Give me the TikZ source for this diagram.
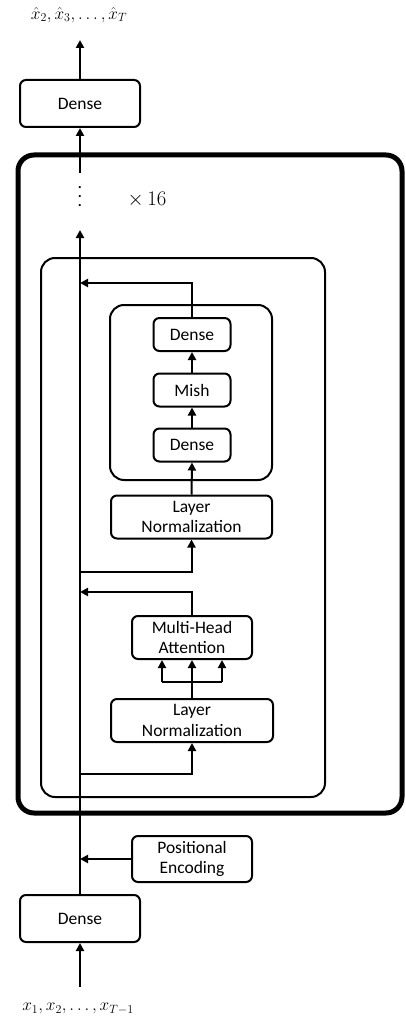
\documentclass[tikz,border=0pt]{standalone}
\usepackage[no-math]{fontspec}
\setmainfont{Carlito}
\usepackage{amsmath}
\usepackage{tikz}
\usetikzlibrary{positioning,arrows.meta,calc}
\tikzset{
  arr/.style={-{Triangle[length=8pt,width=8pt]},line width=2pt},
  lnk/.style={line width=2pt},
  blk/.style={draw,rounded corners=6pt,line width=2pt,align=center,inner sep=0pt,
    font=\fontsize{17.5}{20.5}\selectfont},
  grp/.style={line width=2pt,rounded corners=14pt},
  stackbox/.style={line width=5pt,rounded corners=16pt},
  mlbl/.style={font=\fontsize{18}{21}\selectfont},
}
\begin{document}
\begin{tikzpicture}[x=1pt,y=-1pt]
  \useasboundingbox (0,0) rectangle (405,1024);
  % outer repeated stack and the block inside it
  \draw[stackbox] (18,155) rectangle (402,813);
  \draw[grp] (41,258) rectangle (325,797);
  \draw[grp] (110,305) rectangle (272,480);
  % blocks
  \node[blk,minimum width=120pt,minimum height=47pt] (denseOut) at (80,103.5) {Dense};
  \node[blk,minimum width=77pt,minimum height=33pt] (dense2) at (192,334.5) {Dense};
  \node[blk,minimum width=77pt,minimum height=33pt] (mish) at (192,390) {Mish};
  \node[blk,minimum width=77pt,minimum height=33pt] (dense1) at (192,445) {Dense};
  \node[blk,minimum width=161pt,minimum height=43pt] (ln1) at (191.5,517) {Layer\\Normalization};
  \node[blk,minimum width=120pt,minimum height=43pt] (mha) at (192,637.5) {Multi-Head\\Attention};
  \node[blk,minimum width=162pt,minimum height=43pt] (ln2) at (192,720.5) {Layer\\Normalization};
  \node[blk,minimum width=120pt,minimum height=46pt] (pe) at (192,859) {Positional\\Encoding};
  \node[blk,minimum width=120pt,minimum height=47pt] (denseIn) at (80,918.5) {Dense};
  % inputs / outputs
  \node[mlbl] (outp) at (79,15) {$\hat{x}_2,\hat{x}_3,\dots,\hat{x}_T$};
  \node[mlbl] (inp) at (78,1009) {$x_1,x_2,\dots,x_{T-1}$};
  \node[font=\fontsize{18}{9}\selectfont,align=center,inner sep=0pt] (dots) at (80,197) {.\\.\\.};
  \node[font=\fontsize{20}{24}\selectfont] (rep) at (147,200) {$\times\,16$};
  % free ends of the main path
  \coordinate (inTail) at (80,987);
  \coordinate (outHead) at (80,40);
  \coordinate (stackTop) at (80,230);
  \coordinate (stackOut) at (80,173);
  \coordinate (res1) at (80,283);
  \coordinate (tap1) at (80,572);
  \coordinate (res2) at (80,592);
  \coordinate (tap2) at (80,774);
  \coordinate (pein) at (80,859);
  \coordinate (fork) at (192,682);
  % main path
  \draw[arr] (inTail) -- (denseIn.south);
  \draw[arr] (denseIn.north) -- (stackTop);
  \draw[arr] (stackOut) -- (denseOut.south);
  \draw[arr] (denseOut.north) -- (outHead);
  \draw[arr] (pe.west) -- (pein);
  % attention sub-layer
  \draw[arr] (tap2) -| (ln2.south);
  \draw[arr] (ln2.north) -- (mha.south);
  \draw[lnk] ([xshift=-30pt]fork) -- ([xshift=30pt]fork);
  \draw[arr] ([xshift=-30pt]fork) -- ([xshift=-30pt]mha.south);
  \draw[arr] ([xshift=30pt]fork) -- ([xshift=30pt]mha.south);
  \draw[arr] (mha.north) |- (res2);
  % feed-forward sub-layer
  \draw[arr] (tap1) -| (ln1.south);
  \draw[arr] (ln1.north) -- (dense1.south);
  \draw[arr] (dense1.north) -- (mish.south);
  \draw[arr] (mish.north) -- (dense2.south);
  \draw[arr] (dense2.north) |- (res1);
\end{tikzpicture}
\end{document}
